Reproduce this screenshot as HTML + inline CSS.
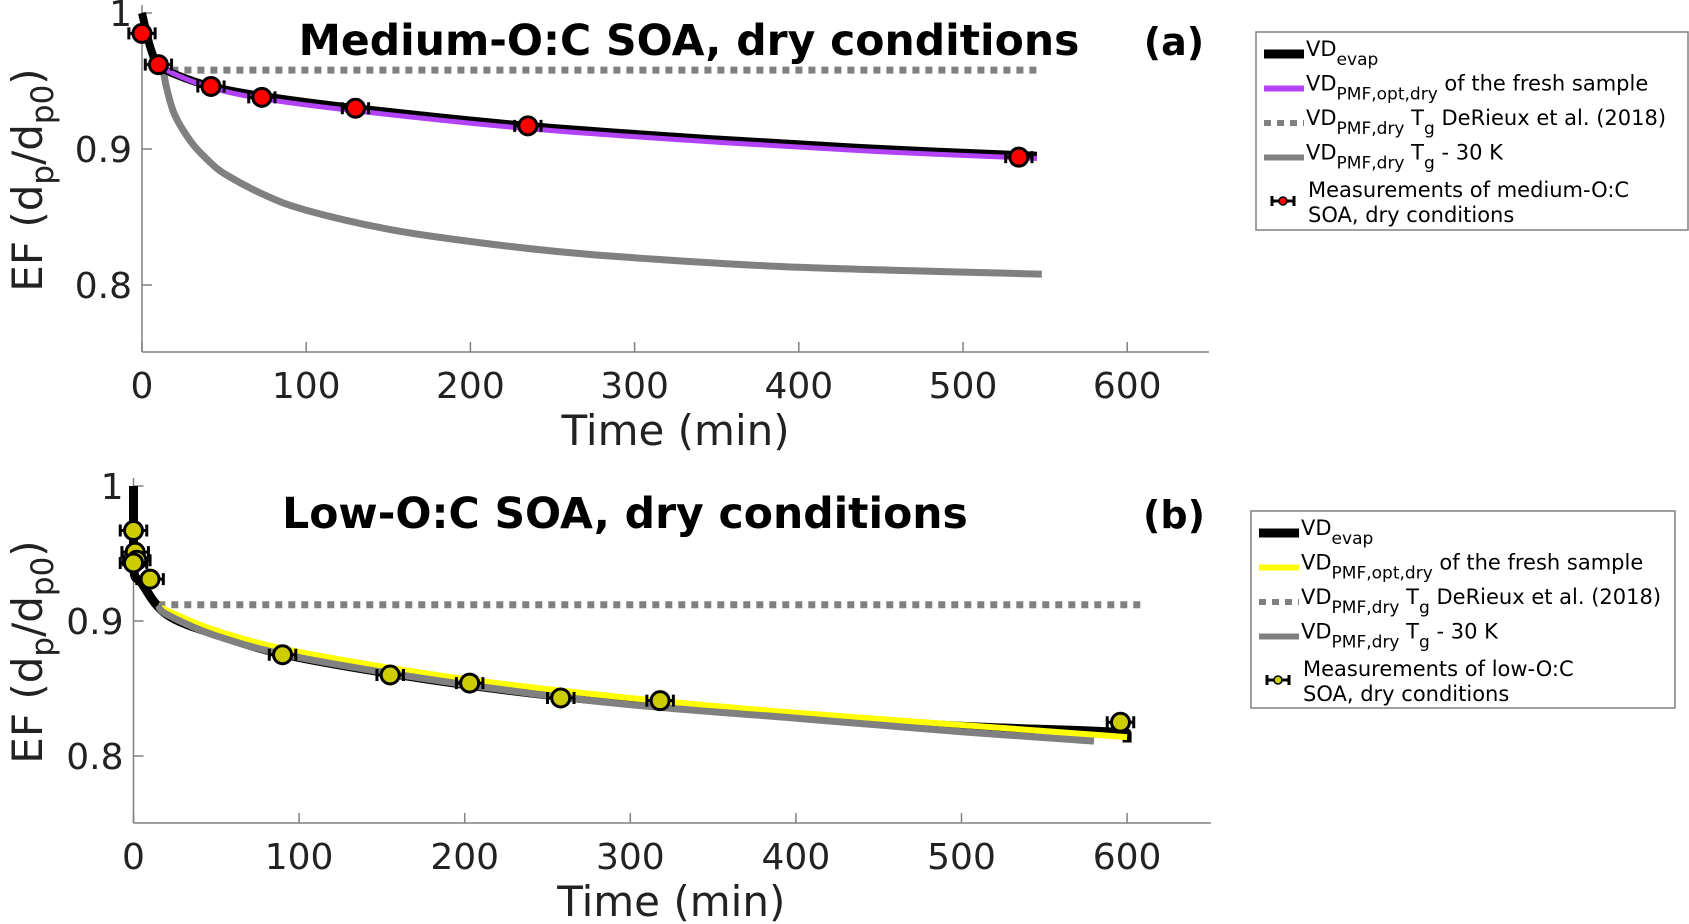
<!DOCTYPE html>
<html><head><meta charset="utf-8"><style>
body{margin:0;background:#fff}
svg{display:block;font-family:"DejaVu Sans","Liberation Sans",sans-serif}
</style></head><body>
<svg id="fig" width="1689" height="924" viewBox="0 0 1689 924">
<g id="pa"></g>
<g id="pb"></g>
</svg>
<script>
// Panel a data
const aMeasT=[0,10,42,73,130,235,534];
const aMeasEF=[0.985,0.962,0.946,0.938,0.930,0.917,0.894];
const aEvapT=[0,5,10,20,42,73,130,235,350,450,545];
const aEvapEF=[1.0,0.975,0.962,0.955,0.946,0.939,0.930,0.917,0.907,0.900,0.895];
const aOptT=[10,20,42,73,130,235,350,450,545];
const aOptEF=[0.962,0.955,0.945,0.937,0.928,0.915,0.905,0.898,0.893];
const aTgT=[10,545];
const aTgEF=[0.958,0.958];
const aTg30T=[13,15,20,30,40,50,75,100,150,200,250,300,400,548];
const aTg30EF=[0.958,0.945,0.925,0.905,0.892,0.882,0.866,0.855,0.841,0.832,0.825,0.820,0.813,0.808];
// Panel b data
const bMeasT=[0,1,2,0,10,90,155,203,258,318,596];
const bMeasEF=[0.967,0.951,0.945,0.943,0.931,0.875,0.860,0.854,0.843,0.841,0.825];
const bEvapT=[0,0,5,20,50,100,200,300,400,500,600,600];
const bEvapEF=[1.0,0.94,0.928,0.905,0.890,0.873,0.853,0.839,0.830,0.822,0.817,0.810];
const bOptT=[15,20,50,100,200,300,400,500,600];
const bOptEF=[0.912,0.908,0.893,0.877,0.857,0.843,0.832,0.823,0.814];
const bTgT=[15,610];
const bTgEF=[0.912,0.912];
const bTg30T=[15,20,50,100,200,300,400,500,580];
const bTg30EF=[0.912,0.905,0.889,0.873,0.853,0.838,0.828,0.818,0.811];
const xTicks=[0,100,200,300,400,500,600];
const yTicks=[0.8,0.9,1];

const NS="http://www.w3.org/2000/svg";
function mk(p,tag,attrs,txt){const e=document.createElementNS(NS,tag);for(const k in attrs)e.setAttribute(k,attrs[k]);if(txt!==undefined)e.textContent=txt;p.appendChild(e);return e;}

function smoothPath(P){
  if(P.length<3)return P.map((p,i)=>(i?'L':'M')+p[0].toFixed(1)+' '+p[1].toFixed(1)).join(' ');
  let d='M'+P[0][0].toFixed(1)+' '+P[0][1].toFixed(1);
  for(let i=0;i<P.length-1;i++){
    const p0=P[Math.max(0,i-1)],p1=P[i],p2=P[i+1],p3=P[Math.min(P.length-1,i+2)];
    if(p1[0]===p2[0]){d+=' L'+p2[0].toFixed(1)+' '+p2[1].toFixed(1);continue;}
    const c1=[p1[0]+(p2[0]-p0[0])/6,p1[1]+(p2[1]-p0[1])/6];
    const c2=[p2[0]-(p3[0]-p1[0])/6,p2[1]-(p3[1]-p1[1])/6];
    d+=` C${c1[0].toFixed(1)} ${c1[1].toFixed(1)} ${c2[0].toFixed(1)} ${c2[1].toFixed(1)} ${p2[0].toFixed(1)} ${p2[1].toFixed(1)}`;
  }
  return d;
}

function panel(g,cfg){
  const sx=t=>cfg.x0+t*cfg.kx, sy=v=>cfg.y1-(v-1)*(-cfg.ky);
  let e=mk(g,'line',{x1:cfg.x0,y1:cfg.yb,x2:cfg.xr,y2:cfg.yb,stroke:'#808080','stroke-width':1.5});
  
  e=mk(g,'line',{x1:cfg.x0,y1:cfg.yb,x2:cfg.x0,y2:cfg.y1-8,stroke:'#808080','stroke-width':1.5});
  
  xTicks.forEach(t=>{
    mk(g,'line',{x1:sx(t),y1:cfg.yb,x2:sx(t),y2:cfg.yb-10,stroke:'#808080','stroke-width':1.5});
    const l=mk(g,'text',{x:sx(t),y:cfg.yb+46,'font-size':36,'text-anchor':'middle',fill:'#222'},t);
    
  });
  yTicks.forEach(v=>{
    mk(g,'line',{x1:cfg.x0,y1:sy(v),x2:cfg.x0+10,y2:sy(v),stroke:'#808080','stroke-width':1.5});
    const l=mk(g,'text',{x:cfg.x0-10,y:sy(v)+13,'font-size':36,'text-anchor':'end',fill:'#222'},v===1?'1':String(v));
    
  });
  e=mk(g,'text',{x:(cfg.x0+sx(600))/2+41,y:cfg.yb+93,'font-size':42,'text-anchor':'middle',fill:'#222'},'Time (min)');
  
  const yl=mk(g,'text',{x:0,y:0,'font-size':42,'text-anchor':'middle',fill:'#222',transform:`translate(42,${cfg.ylc}) rotate(-90)`});
  yl.innerHTML='EF (d<tspan dy="11" font-size="31">p</tspan><tspan dy="-11">/d</tspan><tspan dy="11" font-size="31">p0</tspan><tspan dy="-11">)</tspan>';
  
  e=mk(g,'text',{x:cfg.tx,y:cfg.ty,'font-size':42.5,'font-weight':'bold','text-anchor':'middle'},cfg.title);
  
  e=mk(g,'text',{x:1174,y:cfg.ty,'font-size':38,'font-weight':'bold','text-anchor':'middle'},cfg.lab);
  
  cfg.order.forEach(L=>{
    const P=L.T.map((t,i)=>[sx(t),sy(L.V[i])]);
    const p=mk(g,'path',{d:smoothPath(P),fill:'none',stroke:L.c,'stroke-width':L.w,'stroke-linejoin':'round','stroke-dasharray':L.dash||'none'});
    
  });
  cfg.mT.forEach((t,i)=>{
    const cx=sx(t),cy=sy(cfg.mV[i]),ex=8*cfg.kx;
    const eb=mk(g,'path',{d:`M${cx-ex} ${cy}H${cx+ex}M${cx-ex} ${cy-6}V${cy+6}M${cx+ex} ${cy-6}V${cy+6}`,stroke:'#000','stroke-width':3});
    
    const c=mk(g,'circle',{cx:cx,cy:cy,r:9,fill:cfg.mc,stroke:'#000','stroke-width':3});
    
  });
  const L=cfg.leg;
  e=mk(g,'rect',{x:L.x,y:L.y,width:L.w,height:L.h,fill:'#fff',stroke:'#808080','stroke-width':1.5});
  
  cfg.legItems.forEach((it,i)=>{
    if(it.marker){
      const yy=L.y+157;
      mk(g,'path',{d:`M${L.x+16} ${yy+12}H${L.x+38}M${L.x+16} ${yy+7}V${yy+17}M${L.x+38} ${yy+7}V${yy+17}`,stroke:'#000','stroke-width':3});
      mk(g,'circle',{cx:L.x+27,cy:yy+12,r:4,fill:cfg.mc,stroke:'#000','stroke-width':1.5});
      const t1=mk(g,'text',{x:L.x+52,y:yy+8,'font-size':21},it.t1);
      const t2=mk(g,'text',{x:L.x+52,y:yy+33,'font-size':21},it.t2);
      
      
    } else {
      const yy=L.y+22+i*34.5;
      mk(g,'line',{x1:L.x+8,y1:yy,x2:L.x+48,y2:yy,stroke:it.c,'stroke-width':it.w,'stroke-dasharray':it.dash||'none'});
      const t=mk(g,'text',{x:L.x+50,y:yy+2,'font-size':21});
      t.innerHTML=it.html;
      
    }
  });
}
const legA=[
 {c:'#000',w:9,html:'VD<tspan dy="9" font-size="17">evap</tspan>'},
 {c:'#b142f5',w:6,html:'VD<tspan dy="9" font-size="17">PMF,opt,dry</tspan><tspan dy="-9"> of the fresh sample</tspan>'},
 {c:'#808080',w:6,dash:'7 6',html:'VD<tspan dy="9" font-size="17">PMF,dry</tspan><tspan dy="-9"> T</tspan><tspan dy="9" font-size="17">g</tspan><tspan dy="-9"> DeRieux et al. (2018)</tspan>'},
 {c:'#808080',w:6,html:'VD<tspan dy="9" font-size="17">PMF,dry</tspan><tspan dy="-9"> T</tspan><tspan dy="9" font-size="17">g</tspan><tspan dy="-9"> - 30 K</tspan>'},
 {marker:true,t1:'Measurements of medium-O:C',t2:'SOA, dry conditions'}];
const legB=JSON.parse(JSON.stringify(legA));
legB[1].c='#ffff00';legB[4].t1='Measurements of low-O:C';
panel(document.getElementById('pa'),{x0:142,kx:1.642,y1:13,ky:-1360,yb:352,xr:1209,ylc:180,tx:689,ty:55,
 title:'Medium-O:C SOA, dry conditions',lab:'(a)',mT:aMeasT,mV:aMeasEF,mc:'#ff0000',
 order:[{T:aTgT,V:aTgEF,c:'#808080',w:7,dash:'7 6',name:'line-tg-derieux'},{T:aTg30T,V:aTg30EF,c:'#808080',w:7,name:'line-tg-minus-30k'},
 {T:aEvapT,V:aEvapEF,c:'#000',w:8,name:'line-vd-evap'},{T:aOptT,V:aOptEF,c:'#b142f5',w:5,name:'line-vd-pmf-opt'}],
 leg:{x:1256,y:32,w:432,h:198},legItems:legA});
panel(document.getElementById('pb'),{x0:133.5,kx:1.656,y1:486,ky:-1350,yb:823,xr:1211,ylc:652,tx:625,ty:528,
 title:'Low-O:C SOA, dry conditions',lab:'(b)',mT:bMeasT,mV:bMeasEF,mc:'#cccc00',
 order:[{T:bTgT,V:bTgEF,c:'#808080',w:7,dash:'7 6',name:'line-tg-derieux'},
 {T:bEvapT,V:bEvapEF,c:'#000',w:9,name:'line-vd-evap'},{T:bOptT,V:bOptEF,c:'#ffff00',w:6,name:'line-vd-pmf-opt'},{T:bTg30T,V:bTg30EF,c:'#808080',w:7,name:'line-tg-minus-30k'}],
 leg:{x:1251,y:511,w:424,h:197},legItems:legB});
</script>
</body></html>
